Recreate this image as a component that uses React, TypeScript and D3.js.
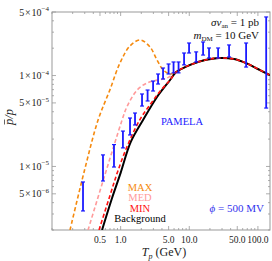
import React from 'react';
import * as d3 from 'd3';

// kinetic energy grid (GeV) and ratio values for each curve
const bgT = [0.536, 0.75, 1.0, 1.4, 2.12, 3.39, 5.25, 6.43, 10.3, 17, 27.2, 45, 67.3, 100, 150];
const bgV = [2.0e-6, 4.5e-6, 8.5e-6, 1.85e-5, 3.24e-5, 5.81e-5, 8.93e-5, 1.09e-4, 1.31e-4, 1.48e-4, 1.56e-4, 1.52e-4, 1.37e-4, 1.18e-4, 1.01e-4];

const minT = [0.484, 0.7, 0.92, 1.3, 1.92, 2.8, 3.8, 5.25, 6.43, 10.3, 17, 27.2, 45, 67.3, 100, 150];
const minV = [2.0e-6, 4.8e-6, 9.1e-6, 1.8e-5, 3.3e-5, 5.0e-5, 6.8e-5, 8.93e-5, 1.09e-4, 1.31e-4, 1.48e-4, 1.56e-4, 1.52e-4, 1.37e-4, 1.18e-4, 1.01e-4];

const medT = [0.335, 0.55, 0.8, 1.05, 1.23, 1.73, 2.43, 3.39, 4.74, 6.43, 10.3, 17, 27.2, 45, 67.3, 100, 150];
const medV = [2.0e-6, 6.8e-6, 1.7e-5, 3.24e-5, 4.5e-5, 6.9e-5, 8.3e-5, 8.9e-5, 9.4e-5, 1.1e-4, 1.31e-4, 1.48e-4, 1.56e-4, 1.52e-4, 1.37e-4, 1.18e-4, 1.01e-4];

const maxT = [0.183, 0.3, 0.469, 0.7, 0.98, 1.37, 1.92, 2.68, 3.39, 4.15, 5.25, 6.43, 10.3, 17, 27.2, 45, 67.3, 100, 150];
const maxV = [2.0e-6, 9.3e-6, 3.24e-5, 7.0e-5, 1.38e-4, 2.12e-4, 2.46e-4, 2.06e-4, 1.48e-4, 1.16e-4, 1.04e-4, 1.09e-4, 1.31e-4, 1.48e-4, 1.56e-4, 1.52e-4, 1.37e-4, 1.18e-4, 1.01e-4];

// PAMELA data: energy, lower and upper ends of error bar
const pamT = [0.283, 0.553, 0.8, 1.08, 1.37, 1.62, 2.05, 2.47, 2.97, 3.51, 4.15, 4.99, 5.9, 6.98, 8.4, 9.93, 12.6, 15.9, 19.4, 26.3, 38, 67.3, 132];
const pamLo = [3.24e-6, 6.92e-6, 9.86e-6, 1.6e-5, 2.22e-5, 2.86e-5, 4.62e-5, 5.25e-5, 6.76e-5, 8.07e-5, 9.16e-5, 1.04e-4, 1.07e-4, 1.07e-4, 1.31e-4, 1.77e-4, 1.41e-4, 1.68e-4, 1.56e-4, 1.56e-4, 1.6e-4, 1.24e-4, 4.39e-5];
const pamHi = [6.75e-6, 1.34e-5, 1.74e-5, 2.45e-5, 3.41e-5, 3.87e-5, 6.27e-5, 6.93e-5, 8.7e-5, 1.04e-4, 1.21e-4, 1.34e-4, 1.41e-4, 1.41e-4, 1.77e-4, 2.28e-4, 1.82e-4, 2.34e-4, 2.01e-4, 2.01e-4, 2.17e-4, 2.28e-4, 4.41e-4];

const xLabels = [0.5, 1, 5, 10, 50, 100];
const yLabels: Array<[number, string, string]> = [
  [5e-6, '5', '\u22126'],
  [1e-5, '1', '\u22125'],
  [5e-5, '5', '\u22125'],
  [1e-4, '1', '\u22124'],
  [5e-4, '5', '\u22124'],
];

const W = 272;
const H = 261;
const left = 52, right = 270, top = 12, bottom = 230;
const font = '"Liberation Serif", "Times New Roman", serif';
const frameColor = '#999';

export default function App() {
  const x = d3.scaleLog().domain([0.1, 150]).range([left, right]);
  const y = d3.scaleLog().domain([2e-6, 5e-4]).range([bottom, top]);

  const line = d3
    .line<[number, number]>()
    .x((d) => x(d[0]))
    .y((d) => y(d[1]))
    .curve(d3.curveCatmullRom.alpha(0.5));

  const pairs = (ts: number[], vs: number[]) => ts.map((t, i) => [t, vs[i]] as [number, number]);

  // tick positions
  const xTicks: number[] = [];
  for (let e = -1; e <= 2; e++) {
    for (let k = 1; k <= 9; k++) {
      const v = k * Math.pow(10, e);
      if (v >= 0.1 && v <= 150) xTicks.push(v);
    }
  }
  const yTicks: number[] = [];
  for (let e = -6; e <= -4; e++) {
    for (let k = 1; k <= 9; k++) {
      const v = k * Math.pow(10, e);
      if (v >= 2e-6 && v <= 5e-4) yTicks.push(v);
    }
  }
  const isMajorX = (v: number) => xLabels.some((l) => Math.abs(l - v) / l < 1e-6);
  const isMajorY = (v: number) => yLabels.some((l) => Math.abs(l[0] - v) / l[0] < 1e-6);

  return (
    <svg width={W} height={H} style={{ position: 'absolute', left: 0, top: 0 }} fontFamily={font}>
      <defs>
        <clipPath id="plot">
          <rect x={left} y={top} width={right - left} height={bottom - top} />
        </clipPath>
      </defs>
      <rect width={W} height={H} fill="white" />

      {/* frame */}
      <rect x={left} y={top} width={right - left} height={bottom - top} fill="none" stroke={frameColor} strokeWidth={1} />
      {xTicks.map((v, i) => {
        const len = isMajorX(v) ? 4 : 2;
        return (
          <g key={'xt' + i} stroke={frameColor} strokeWidth={0.8}>
            <line x1={x(v)} x2={x(v)} y1={bottom} y2={bottom - len} />
            <line x1={x(v)} x2={x(v)} y1={top} y2={top + len} />
          </g>
        );
      })}
      {yTicks.map((v, i) => {
        const len = isMajorY(v) ? 4 : 2;
        return (
          <g key={'yt' + i} stroke={frameColor} strokeWidth={0.8}>
            <line x1={left} x2={left + len} y1={y(v)} y2={y(v)} />
            <line x1={right} x2={right - len} y1={y(v)} y2={y(v)} />
          </g>
        );
      })}

      {/* tick labels */}
      {xLabels.map((v) => (
        <text key={'xl' + v} x={x(v)} y={243} fontSize={9.5} textAnchor="middle" fill="#222">
          {v.toFixed(1)}
        </text>
      ))}
      {yLabels.map(([v, m, e]) => (
        <text key={'yl' + v} x={49} y={y(v) + 3.5} fontSize={10} textAnchor="end" fill="#222">
          {m}
          <tspan dx={0.8}>×</tspan>
          <tspan dx={0.8}>10</tspan>
          <tspan fontSize={7} dy={-4.5}>{e}</tspan>
        </text>
      ))}

      {/* axis labels */}
      <text x={164} y={256} fontSize={12} textAnchor="middle" fill="#222">
        <tspan fontStyle="italic">T</tspan>
        <tspan fontSize={8} fontStyle="italic" dy={2.5}>p</tspan>
        <tspan dy={-2.5}> (GeV)</tspan>
      </text>
      <g transform="translate(13,117) rotate(-90)">
        <text x={0} y={0} fontSize={12.5} textAnchor="middle" fontStyle="italic" fill="#222">
          p/p
        </text>
        <line x1={-7.5} x2={-2.5} y1={-8.5} y2={-8.5} stroke="#222" strokeWidth={0.7} />
      </g>

      {/* curves */}
      <g clipPath="url(#plot)" fill="none">
        <path d={line(pairs(maxT, maxV)) || ''} stroke="#f58a0f" strokeWidth={1.6} strokeDasharray="4,2.5" />
        <path d={line(pairs(medT, medV)) || ''} stroke="#ff9a9a" strokeWidth={1.6} strokeDasharray="4,2.5" />
        <path d={line(pairs(bgT, bgV)) || ''} stroke="#000" strokeWidth={2} />
        <path d={line(pairs(minT, minV)) || ''} stroke="#ff1010" strokeWidth={1.6} strokeDasharray="4,2.5" />
      </g>

      {/* PAMELA error bars */}
      <g stroke="#1a1aff" strokeWidth={1.8}>
        {pamT.map((t, i) => (
          <g key={'p' + i}>
            <line x1={x(t)} x2={x(t)} y1={y(pamLo[i])} y2={y(pamHi[i])} />
            <line x1={x(t) - 2} x2={x(t) + 2} y1={y(pamLo[i])} y2={y(pamLo[i])} strokeWidth={1.2} />
            <line x1={x(t) - 2} x2={x(t) + 2} y1={y(pamHi[i])} y2={y(pamHi[i])} strokeWidth={1.2} />
          </g>
        ))}
      </g>

      {/* annotations */}
      <text x={259} y={26} fontSize={11} textAnchor="end" fill="#111">
        <tspan fontStyle="italic">σv</tspan>
        <tspan fontSize={7} dy={1.5}>an</tspan>
        <tspan dy={-1.5}> = 1 pb</tspan>
      </text>
      <text x={259} y={39} fontSize={11} textAnchor="end" fill="#111">
        <tspan fontStyle="italic">m</tspan>
        <tspan fontSize={7} dy={1.5}>DM</tspan>
        <tspan dy={-1.5}> = 10 GeV</tspan>
      </text>
      <text x={182} y={125} fontSize={10.5} textAnchor="middle" fill="#1a1aff">PAMELA</text>
      <text x={140} y={190.5} fontSize={10.5} textAnchor="middle" fill="#f58a0f">MAX</text>
      <text x={140} y={201} fontSize={10.5} textAnchor="middle" fill="#ff9a9a">MED</text>
      <text x={140} y={211.5} fontSize={10.5} textAnchor="middle" fill="#ff1010">MIN</text>
      <text x={140} y={222} fontSize={10.5} textAnchor="middle" fill="#000">Background</text>
      <text x={264} y={212} fontSize={11} textAnchor="end" fill="#3333ee">
        <tspan fontStyle="italic">ϕ</tspan> = 500 MV
      </text>
    </svg>
  );
}
